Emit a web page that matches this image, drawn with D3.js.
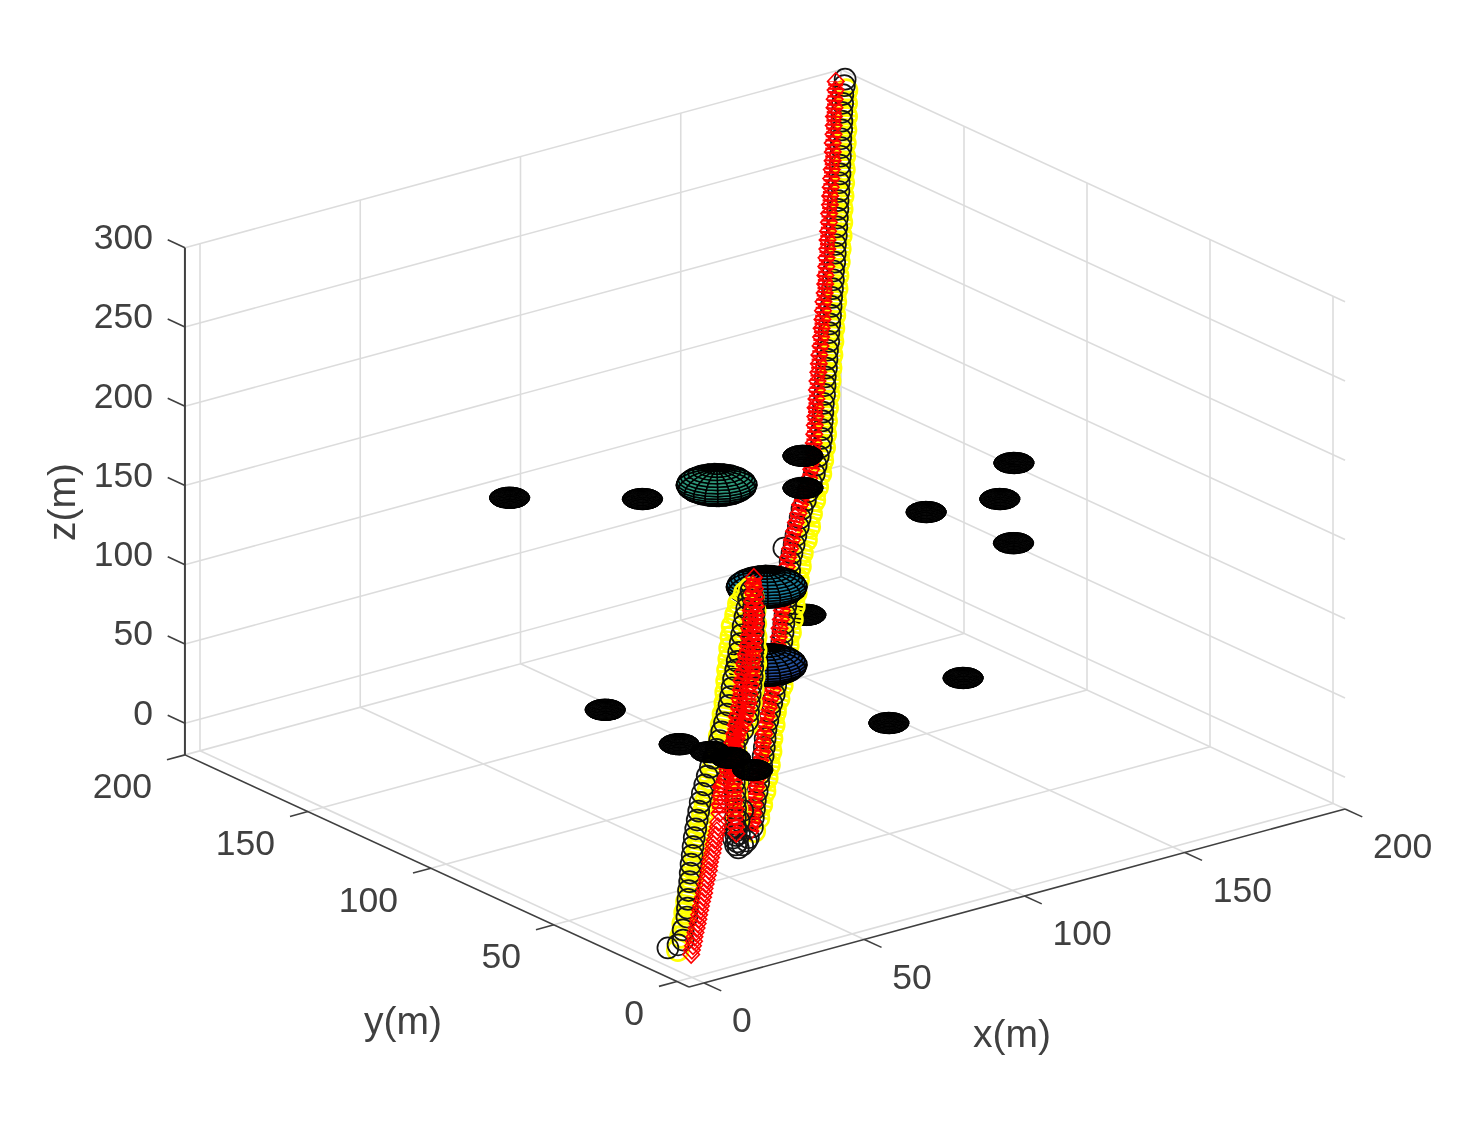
<!DOCTYPE html>
<html><head><meta charset="utf-8">
<script src="https://cdnjs.cloudflare.com/ajax/libs/d3/7.8.5/d3.min.js"></script>
<style>html,body{margin:0;background:#fff}svg{display:block;filter:blur(0.6px)}</style>
</head><body><svg id="c" width="1472" height="1122"></svg>
<script>
const xTicks=[0,50,100,150,200], yTicks=[0,50,100,150,200], zTicks=[0,50,100,150,200,250,300];
const xLim=[-4.7,200], yLim=[-4.9,200], zLim=[-20,300];
const xLabel="x(m)", yLabel="y(m)", zLabel="z(m)";

const sphereX=[21,62.3,148.6,173.8,184.5,170.4,93.1,131.2,100.2,14,119.9,114.3,87.9,72.2,85.8,31.1,39.8,44.7,49.5];
const sphereY=[101.5,101.3,98.4,101.3,109.5,91.3,75,60.7,50.5,53.5,111.1,103.8,104.5,63.7,81.4,45.7,44.4,42.6,39.8];
const sphereZ=[198.5,175.2,121.7,114,125,95.2,104,53.5,49.4,102.9,163.8,151.8,167.7,92,121.1,77.4,68.6,63.5,55.2];
const sphereR=[5,5,5,5,5,5,5,5,5,5,5,5,10,10,10,5,5,5,5];
const sphereLayer=[0,0,0,0,0,0,0,0,0,0,1,1,1,1,1,2,2,2,2];

const blackEarlyX=[-7.9,-4.2,-1.8,0,3.4,5.1,6.8,8.5,10.4,12.1,13.9,15.8,17.6,19.5,21.5,23.5,25.5,27.5,29.7,32,34.3,36.8,39.3,41.8,44.3,46.5,48.9,51.2,53.4,55.4,57.4,59.4,61.6,63.6,65.6,67.6,69.6,71.6,73.7,75.8,77.9,80.2,79.6,78.4,76.9,75.3,73.6,71.9,70.4,68.8,67.3,65.6,63.7,61.9,60.1,58.3,56.5,53.4,50.4,47.8,45.9,44.4,43,41.6,40.3,38.9,37.4,35.8,34.3,32.9,32.2,31.6,31.1,31.5,33.3,35.2,33.9,36.5,39.3,34.3];
const blackEarlyY=[-0.5,0.2,1.3,3.6,6.5,8.5,10.5,12.5,14.5,16.5,18.5,20.5,22.5,24.5,26.5,28.5,30.5,32.5,34.5,36.5,38.5,40.5,42.5,44.5,46.5,48.5,50.5,52.5,54.5,56.5,58.5,60.5,62.5,64.5,66.5,68.5,70.5,72.5,74.5,76.5,78.5,80.5,79,77,75,73,71,69,67,65,63,61,59,57,55,53,51,48.9,47.1,45,43,41,39,37,35,33,31,29,27,25,23.5,24.4,22.8,22.2,22.8,23.7,26.1,28.4,30.6,25.4];
const blackEarlyZ=[3.3,2.7,3.6,7.4,11.6,14.8,18,21.2,24.3,27.4,30.6,33.7,36.8,40,43,46,49.1,52.1,55.1,57.8,60.7,63.5,66.3,69.1,71.9,74.7,77.6,80.5,83.4,86.4,89.4,92.4,95.4,98.4,101.5,104.5,107.6,110.6,113.7,116.5,119.5,122.4,119.7,116.2,112.9,109.6,106.4,103.2,99.9,96.6,93.3,90.1,87,83.9,80.8,77.6,74.4,71.8,69.8,66.8,63.6,60.3,57.1,53.7,50.3,46.9,43.6,40.3,37,33.6,31,33.1,30.2,28.5,29,29.8,35.3,38.5,41.8,33.7];

const blackLateX=[36.4,39.5,41.4,43.3,45.1,47.2,49.2,51.1,53.2,55.2,57.1,58.9,60.7,62.8,64.9,67.1,69.4,71.4,73.3,75.1,77.1,79.1,81,82.9,84.7,86.6,88.4,90.4,92.1,93.9,95.7,97.4,99.5,101.7,103.8,106.1,108.2,110.3,112.9,115.3,117.8,120.3,122.4,124.6,126.8,128.7,130.3,132,133.7,135.4,137.3,139,140.6,142.5,144.2,145.9,147.8,149.4,151.2,153,154.7,156.4,158.2,160,161.6,163.5,165.2,166.8,168.6,170.3,172,173.7,175.3,177.1,178.7,180.5,182,183.7,185.4,186.9,188.7,190.3,191.8,193.6,195.2,197.2,198.6,97.9];
const blackLateY=[24.5,26.9,29,31,33,35,37,39,41,43,45,47,49,51,53,55,57,59,61,63,65,67,69,71,73,75,77,79,81,83,85,87,89,91,93,95,97,99,101,103,105,107,109,111,113,115,117,119,121,123,125,127,129,131,133,135,137,139,141,143,145,147,149,151,153,155,157,159,161,163,165,167,169,171,173,175,177,179,181,183,185,187,189,191,193,195,196.5,90.2];
const blackLateZ=[30.7,34,37.2,40.3,43.5,46.5,49.5,52.6,55.5,58.6,61.7,64.8,68,71,74,76.9,79.8,82.8,85.9,89,92,95.1,98.2,101.3,104.4,107.6,110.7,113.7,116.9,120,123.2,126.4,129.4,132.3,135.3,138.2,141.2,144.2,146.8,149.6,152.4,155.2,158.1,161.1,164.1,167.2,170.4,173.6,176.7,179.9,183.1,186.3,189.5,192.6,195.8,199.1,202.2,205.4,208.5,211.6,214.8,218.1,221.2,224.4,227.6,230.7,234,237.2,240.3,243.5,246.7,249.9,253.1,256.4,259.6,262.8,266.1,269.3,272.4,275.7,278.9,282.1,285.4,288.7,291.9,295,297.2,132.6];

const redHollowCount=31;
const redEarlyX=[-1.8,-0.8,0.3,1.4,2.3,3.4,4.5,5.6,6.6,7.6,8.7,9.7,10.8,11.9,13,13.9,15,16.1,17.2,18.3,19.2,20.2,21.3,22.5,23.5,24.4,25.5,26.7,27.7,28.8,29.7,31.6,33.2,35,36.6,39.6,41.8,43.7,46,47.9,50,52,53.9,56,57.8,59.7,61.5,63.4,65.4,67.4,69.5,71.3,73.1,75,76.7,78.6,80.4,82,83.4,81.8,80.5,79,77.5,75.8,74.1,72.3,70.7,68.9,67.3,65.5,63.6,61.7,59.9,57.9,55.7,52.7,50,47.8,45.9,44.4,42.8,41.5,40.1,38.7,37.4,35.8,34.4,33.4];
const redEarlyY=[-2,-1,0,1,2,3,4,5,6,7,8,9,10,11,12,13,14,15,16,17,18,19,20,21,22,23,24,25,26,27,28,30,32,34,36,38,40,42,44,46,48,50,52,54,56,58,60,62,64,66,68,70,72,74,76,78,80,82,83.5,81,79,77,75,73,71,69,67,65,63,61,59,57,55,53,51,49,47,45,43,41,39,37,35,33,31,29,27,25.5];
const redEarlyZ=[-3.1,-1.6,-0.2,1.3,2.9,4.3,5.8,7.3,8.8,10.3,11.8,13.3,14.8,16.2,17.6,19.2,20.7,22.2,23.6,25.2,26.7,28.2,29.6,31.1,32.6,34.1,35.6,37.1,38.6,40,41.6,44.8,47.9,51.1,54.3,56.8,59.8,62.8,65.8,68.8,71.9,74.9,77.8,80.9,84,87.1,90.3,93.4,96.4,99.5,102.5,105.7,108.7,111.8,115,118.2,121.3,124.5,126.9,122.5,119.2,115.9,112.6,109.3,106.1,102.9,99.7,96.5,93.3,90.2,87.1,84,80.9,77.8,74.9,72.3,69.7,66.8,63.6,60.3,57.1,53.8,50.4,47,43.6,40.3,36.9,34.3];

const redLateX=[38.2,40.4,42.2,44,45.9,47.7,49.6,51.6,53.6,55.7,57.5,59.4,61.2,63.2,65.4,67.5,69.7,71.6,73.4,75.3,77.1,79,80.8,82.6,84.5,86.4,88.3,90.1,91.9,93.8,95.6,97.5,99.7,101.8,104,106.1,108.4,110.5,112.9,115.5,117.9,120.1,121.9,123.8,125.5,127.2,128.9,130.6,132.2,134,135.7,137.4,139.2,140.9,142.6,144.5,146.2,147.9,149.7,151.4,153.1,155,156.7,158.3,160.1,161.7,163.5,165.1,166.8,168.6,170.2,172,173.6,175.3,177,178.7,180.5,182.1,183.6,185.4,187,188.6,190.3,191.9,193.7,195.3];
const redLateY=[26,28,30,32,34,36,38,40,42,44,46,48,50,52,54,56,58,60,62,64,66,68,70,72,74,76,78,80,82,84,86,88,90,92,94,96,98,100,102,104,106,108,110,112,114,116,118,120,122,124,126,128,130,132,134,136,138,140,142,144,146,148,150,152,154,156,158,160,162,164,166,168,170,172,174,176,178,180,182,184,186,188,190,192,194,196];
const redLateZ=[32.8,35.8,38.9,41.9,45.1,48.2,51.3,54.4,57.4,60.4,63.6,66.7,69.8,72.8,75.7,78.7,81.6,84.8,87.9,91,94.2,97.3,100.4,103.4,106.6,109.7,112.8,115.9,119.1,122.2,125.3,128.5,131.4,134.3,137.2,140.2,143.1,146.1,148.9,151.7,154.4,157.4,160.5,163.6,166.8,170,173.2,176.4,179.6,182.8,186.1,189.3,192.4,195.5,198.7,201.9,205.1,208.3,211.4,214.6,217.8,221,224.2,227.3,230.5,233.7,236.9,240.2,243.4,246.6,249.8,253,256.2,259.3,262.5,265.8,269,272.2,275.5,278.7,281.9,285.2,288.4,291.5,294.8,298];

const yellowEarlyX=[-5.2,-1.9,1.1,3.6,6.1,8.7,11.3,13.8,16.3,18.9,21.3,23.7,26.4,29.1,31.9,34.5,37.2,39.9,42.5,45.1,47.6,50.1,52.6,54.8,57,59.2,61.5,63.7,66,68.3,71.3,74.1,77.9,80.2,79.6,77.9,75.8,73.6,71.3,68.9,66.1,63.5,60.6,57.5,55.4,50,46.9,44.6,42.3,40,37.7,35.4];
const yellowEarlyY=[-1,2,5,7.5,10,12.5,15,17.5,20,22.5,25,27.5,30,32.5,35,37.5,40,42.5,45,47.5,50,52.5,55,57.5,60,62.5,65,67.5,70,72.5,75,77.5,80,81,79,76,73,70,67,64,61,58,55,52,50,47,43,40,37,34,31,28];
const yellowEarlyZ=[0.8,5.2,9.7,13.5,17.4,21.1,24.9,28.6,32.4,36.1,40,43.8,47.6,51.3,54.9,58.6,62.3,65.9,69.7,73.5,77.3,81.1,84.9,88.8,92.8,96.7,100.6,104.5,108.6,112.4,116,119.6,122.7,123.4,119.7,114.3,109.3,104.4,99.4,94.5,89.8,85.1,80.5,75.9,73,69.7,63.1,58.2,53.3,48.3,43.4,38.5];

const yellowLateX=[39.4,43,46.2,49.5,52.5,55.5,58.3,60.9,63.9,66.6,70,73.3,76.2,79.2,82.1,85.1,88,90.9,93.8,96.8,99.7,102.6,106.2,109.5,112.4,115.7,118.9,122.2,125.1,128,130.6,133.2,135.8,138.6,141.2,143.8,146.4,149,151.6,154.2,156.8,159.5,162.1,164.8,167.4,170,172.5,174.9,177.5,180,182.5,184.9,187.4,189.9,192.4,194.7,197.1];
const yellowLateY=[26,29,32,35,38,41,44,47,50,53,56,59,62,65,68,71,74,77,80,83,86,89,92,95,98,101,104,107,110,113,116,119,122,125,128,131,134,137,140,143,146,149,152,155,158,161,164,167,170,173,176,179,182,185,188,191,194];
const yellowLateZ=[32.1,36.3,40.7,45.2,49.8,54.2,59,63.7,68.4,73,77.3,81.8,86.3,90.9,95.6,100.1,104.7,109.3,113.9,118.4,123.1,127.7,131.9,136.3,140.9,145.3,149.8,154.2,158.8,163.4,168.1,172.9,177.7,182.4,187.2,191.9,196.7,201.5,206.2,210.9,215.8,220.5,225.2,230.1,234.8,239.5,244.4,249.2,254.1,258.9,263.7,268.6,273.4,278.2,283.2,288.1,292.9];

const xH=d3.scaleLinear([0,200],[0,641]), xV=d3.scaleLinear([0,200],[0,-174]);
const yH=d3.scaleLinear([0,200],[0,-492]), yV=d3.scaleLinear([0,200],[0,-226.6]);
const zV=d3.scaleLinear([0,300],[945.7,470.2]);
const project=(x,y,z)=>[692+xH(x)+yH(y), zV(z)+xV(x)+yV(y)];

const svg=d3.select("#c");
const line=d3.line();
const seg=(g,a,b,st,w)=>g.append("path").attr("d",line([project(...a),project(...b)])).attr("stroke",st).attr("stroke-width",w).attr("fill","none");

const root=svg.append("g");
const grid=root.append("g");
const gc="#dcdcdc", gw=1.6;
zTicks.forEach(z=>{
  seg(grid,[xLim[0],200,z],[200,200,z],gc,gw);
  seg(grid,[200,200,z],[200,yLim[0],z],gc,gw);
});
xTicks.forEach(x=>{
  seg(grid,[x,200,zLim[0]],[x,200,300],gc,gw);
  seg(grid,[x,200,zLim[0]],[x,yLim[0],zLim[0]],gc,gw);
});
yTicks.forEach(y=>{
  seg(grid,[200,y,zLim[0]],[200,y,300],gc,gw);
  seg(grid,[200,y,zLim[0]],[xLim[0],y,zLim[0]],gc,gw);
});

const ax=root.append("g"), ac="#404040", aw=1.6;
seg(ax,[xLim[0],200,zLim[0]],[xLim[0],200,300],ac,2);
seg(ax,[xLim[0],200,zLim[0]],[xLim[0],yLim[0],zLim[0]],ac,aw);
seg(ax,[xLim[0],yLim[0],zLim[0]],[200,yLim[0],zLim[0]],ac,aw);
zTicks.forEach(z=>seg(ax,[xLim[0],200,z],[xLim[0],207,z],ac,aw));
yTicks.forEach(y=>seg(ax,[xLim[0],y,zLim[0]],[xLim[0]-5.6,y,zLim[0]],ac,aw));
xTicks.forEach(x=>seg(ax,[x,yLim[0],zLim[0]],[x,yLim[0]-7,zLim[0]],ac,aw));

const font="Liberation Sans, Arial, sans-serif", fs=35.5;
const tl=(t,x,y,anchor,size=fs,rot)=>{
  const s=svg.append("text").text(t).attr("font-family",font).attr("font-size",size).attr("fill","#404040").attr("text-anchor",anchor);
  if(rot){s.attr("transform",`translate(${x},${y}) rotate(${rot})`)} else {s.attr("x",x).attr("y",y)}
};
zTicks.forEach(z=>{const p=project(xLim[0],200,z); tl(z,p[0]-32,p[1]-11+12.5,"end")});
yTicks.forEach(y=>{const p=project(xLim[0],y,zLim[0]); tl(y,p[0]-33,p[1]+31+12.5,"end")});
xTicks.forEach(x=>{const p=project(x,yLim[0],zLim[0]); tl(x,p[0]+28,p[1]+37+12.5,"start")});
tl(xLabel,1012,1047,"middle",39);
tl(yLabel,403,1034,"middle",39);
tl(zLabel,75,502,"middle",39,-90);

const view=[-3.9,-5.06,5.76];
const colour=d3.scaleLinear([85,121,175],["#2a3c9e","#1b7fa3","#2f9a7a"]);
const N=20;
function drawSphere(g,i){
  const [cx,cy,cz,r]=[sphereX[i],sphereY[i],sphereZ[i],sphereR[i]];
  const dark=r<10;
  const pt=(a,b)=>[Math.cos(b)*Math.cos(a),Math.cos(b)*Math.sin(a),Math.sin(b)];
  const faces=[];
  for(let a=0;a<N;a++)for(let b=0;b<N;b++){
    const a0=a/N*2*Math.PI,a1=(a+1)/N*2*Math.PI,b0=-Math.PI/2+b/N*Math.PI,b1=-Math.PI/2+(b+1)/N*Math.PI;
    const n=pt((a0+a1)/2,(b0+b1)/2);
    const d=n[0]*view[0]+n[1]*view[1]+n[2]*view[2];
    if(d<=-0.5)continue;
    const corners=[pt(a0,b0),pt(a1,b0),pt(a1,b1),pt(a0,b1)].map(c=>project(cx+r*c[0],cy+r*c[1],cz+r*c[2]));
    faces.push({d,corners,z:cz+r*n[2]});
  }
  faces.sort((p,q)=>p.d-q.d);
  g.selectAll(null).data(faces).join("path")
    .attr("d",f=>line(f.corners)+"Z")
    .attr("fill",f=>dark?"#000":colour(f.z))
    .attr("stroke","#000").attr("stroke-width",dark?0.8:1.5);
}
const layer=l=>{const g=root.append("g"); sphereX.forEach((_,i)=>{if(sphereLayer[i]===l)drawSphere(g,i)})};

const diamond={draw(ctx,size){const w=Math.sqrt(size)*.5,h=w*1.05;ctx.moveTo(0,-h);ctx.lineTo(w,0);ctx.lineTo(0,h);ctx.lineTo(-w,0);ctx.closePath();}};
const dSym=d3.symbol().type(diamond).size(272);
const band=(g,pts,col,w,dash)=>g.append("path").attr("d",line(pts)).attr("fill","none").attr("stroke",col).attr("stroke-width",w).attr("stroke-dasharray",dash).attr("stroke-linejoin","round");
function track(xs,ys,zs,kind,skip=0){
  const g=root.append("g");
  const pts=xs.map((x,i)=>project(x,ys[i],zs[i]));
  if(kind==="red"){
    band(g,pts.slice(skip),"#ff0000",15,"2.4 1.6");
    g.selectAll(null).data(pts).join("path").attr("d",dSym).attr("transform",p=>`translate(${p[0]},${p[1]})`)
     .attr("fill","none").attr("stroke","#ff0000").attr("stroke-width",1.6);
  } else if(kind==="yellow"){
    band(g,pts.slice(1),"#ffff00",21,"2.5 1.5");
    g.selectAll(null).data(pts).join("circle").attr("cx",p=>p[0]).attr("cy",p=>p[1]).attr("r",10.5)
     .attr("fill","none").attr("stroke","#ffff00").attr("stroke-width",2.6);
  } else {
    g.selectAll(null).data(pts).join("circle").attr("cx",p=>p[0]).attr("cy",p=>p[1]).attr("r",10.5)
     .attr("fill","none").attr("stroke","#151515").attr("stroke-width",1.7);
  }
}
layer(0);
track(yellowLateX,yellowLateY,yellowLateZ,"yellow");
track(blackLateX,blackLateY,blackLateZ,"black");
track(redLateX,redLateY,redLateZ,"red");
layer(1);
track(yellowEarlyX,yellowEarlyY,yellowEarlyZ,"yellow");
track(blackEarlyX,blackEarlyY,blackEarlyZ,"black");
track(redEarlyX,redEarlyY,redEarlyZ,"red",redHollowCount);
layer(2);
</script></body></html>
